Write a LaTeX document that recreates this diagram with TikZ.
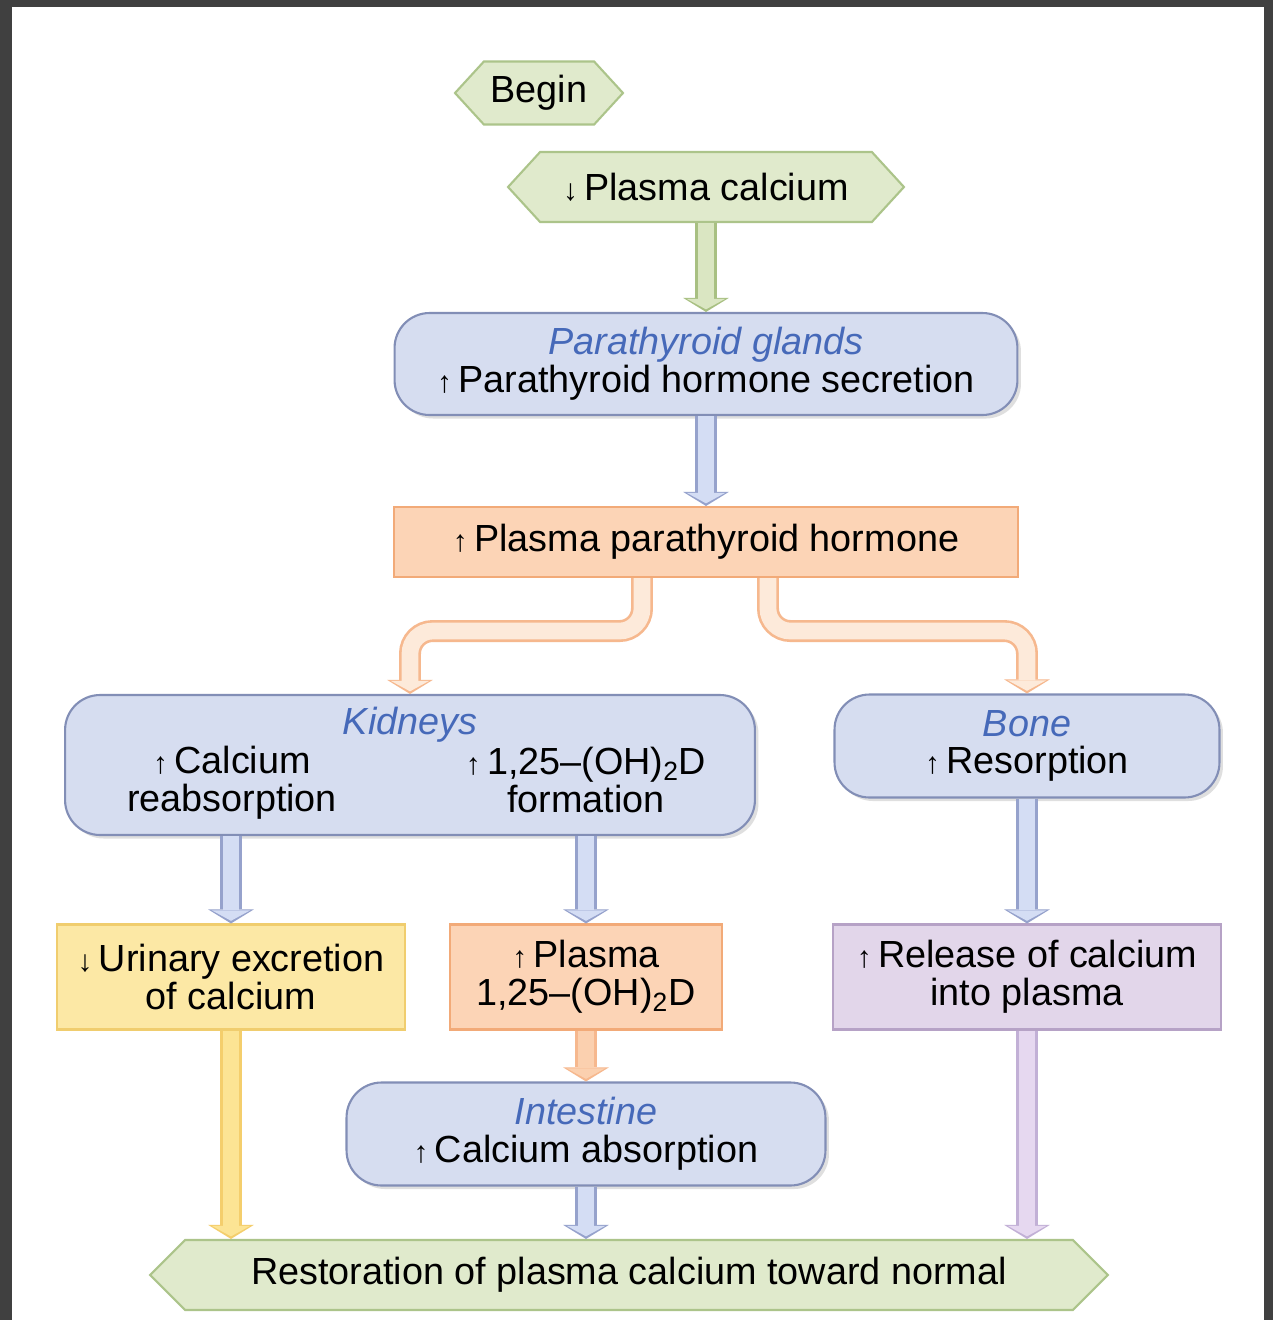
\documentclass[tikz,border=0pt]{standalone}
\usepackage{fontspec}
\setmainfont{Liberation Sans}
\usetikzlibrary{shapes.symbols,arrows.meta,shadows}

\definecolor{framegray}{RGB}{64,64,64}
\definecolor{greenfill}{RGB}{224,234,204}
\definecolor{greenline}{RGB}{172,196,138}
\definecolor{greenin}{RGB}{218,230,194}
\definecolor{greenout}{RGB}{168,192,130}
\definecolor{bluefill}{RGB}{214,221,240}
\definecolor{blueline}{RGB}{130,142,182}
\definecolor{bluein}{RGB}{212,221,244}
\definecolor{blueout}{RGB}{150,162,204}
\definecolor{headblue}{RGB}{70,105,185}
\definecolor{orangefill}{RGB}{252,212,182}
\definecolor{orangeline}{RGB}{242,170,120}
\definecolor{orangein}{RGB}{253,234,218}
\definecolor{orangeout}{RGB}{246,184,142}
\definecolor{orangedeep}{RGB}{251,208,175}
\definecolor{yellowfill}{RGB}{252,232,165}
\definecolor{yellowline}{RGB}{240,205,110}
\definecolor{yellowin}{RGB}{252,228,148}
\definecolor{yellowout}{RGB}{244,206,108}
\definecolor{lavfill}{RGB}{226,214,234}
\definecolor{lavline}{RGB}{182,162,198}
\definecolor{lavin}{RGB}{230,216,240}
\definecolor{lavout}{RGB}{194,176,214}

\newcommand\uparr{{\fontsize{17}{17}\selectfont ↑}\,}
\newcommand\downarr{{\fontsize{17}{17}\selectfont ↓}\,}

\begin{document}
\begin{tikzpicture}[x=0.02cm,y=-0.02cm,
    every node/.style={font=\fontsize{21.5}{21.5}\selectfont, align=center},
    hexbox/.style={signal, signal to=west and east, signal pointer angle=95,
        draw=greenline, fill=greenfill, line width=1.2pt, inner sep=0pt},
    roundbox/.style={rectangle, rounded corners=0.7cm, draw=blueline, fill=bluefill, line width=1.2pt,
        drop shadow={opacity=0.25, shadow xshift=2pt, shadow yshift=-2pt}},
    flatbox/.style 2 args={rectangle, draw=#2, fill=#1, line width=1.2pt},
    head/.style={text=headblue, font=\fontsize{21.5}{21.5}\selectfont\itshape},
    flow/.style 2 args={draw=#1, line width=9.5pt, -{Triangle[length=6pt,width=22pt,line width=0pt]}, shorten >=1.5pt,
        preaction={draw=#2, line width=12.5pt, -{Triangle[length=8pt,width=26pt,line width=0pt]}, shorten >=0pt}}]
	\useasboundingbox (0,0) rectangle (1273,1320);
	\fill[framegray] (0,0) rectangle (1273,1320);
	\fill[white] (12,7) rectangle (1264,1320);

	\node[hexbox, minimum width=3.36cm, minimum height=1.26cm] (begin) at (539,93) {Begin};
	\node[hexbox, minimum width=7.92cm, minimum height=1.4cm] (lowca) at (706,187) {\downarr Plasma calcium};
	\node[roundbox, minimum width=12.46cm, minimum height=2.04cm] (ptg) at (706,364)
		{\textcolor{headblue}{\itshape Parathyroid glands}\\\uparr Parathyroid hormone secretion};
	\node[flatbox={orangefill}{orangeline}, minimum width=12.5cm, minimum height=1.4cm] (pth) at (706,542)
		{\uparr Plasma parathyroid hormone};

	\node[roundbox, minimum width=13.8cm, minimum height=2.8cm] (kid) at (410,765) {};
	\node[head] (kidname) at (410,725) {Kidneys};
	\node (kidca) at (232,783) {\uparr Calcium\\reabsorption};
	\node (kidvd) at (586,780) {\uparr 1,25--(OH)\textsubscript{2}D\\formation};
	\node[roundbox, minimum width=7.7cm, minimum height=2.06cm] (bone) at (1027,746)
		{\textcolor{headblue}{\itshape Bone}\\\uparr Resorption};

	\node[flatbox={yellowfill}{yellowline}, minimum width=6.96cm, minimum height=2.1cm] (urin) at (231,977)
		{\downarr Urinary excretion\\of calcium};
	\node[flatbox={orangefill}{orangeline}, minimum width=5.44cm, minimum height=2.1cm] (pvd) at (586,977)
		{\uparr Plasma\\1,25--(OH)\textsubscript{2}D};
	\node[flatbox={lavfill}{lavline}, minimum width=7.76cm, minimum height=2.1cm] (rel) at (1027,977)
		{\uparr Release of calcium\\into plasma};
	\node[roundbox, minimum width=9.58cm, minimum height=2.06cm] (gut) at (586,1134)
		{\textcolor{headblue}{\itshape Intestine}\\\uparr Calcium absorption};
	\node[hexbox, signal pointer angle=90, minimum width=19.16cm, minimum height=1.4cm] (rest) at (629,1275)
		{Restoration of plasma calcium toward normal};

	\draw[flow={greenin}{greenout}] (lowca.south) -- (ptg.north);
	\draw[flow={bluein}{blueout}] (ptg.south) -- (pth.north);
	\draw[flow={orangein}{orangeout}, rounded corners=0.45cm] ([xshift=-1.28cm]pth.south) -- ++(0,53) -| (kid.north);
	\draw[flow={orangein}{orangeout}, rounded corners=0.45cm] ([xshift=1.24cm]pth.south) -- ++(0,53) -| (bone.north);
	\draw[flow={bluein}{blueout}] (kid.south -| urin.north) -- (urin.north);
	\draw[flow={bluein}{blueout}] (kid.south -| pvd.north) -- (pvd.north);
	\draw[flow={bluein}{blueout}] (bone.south) -- (rel.north);
	\draw[flow={orangedeep}{orangeout}] (pvd.south) -- (gut.north);
	\draw[flow={yellowin}{yellowout}] (urin.south) -- (urin.south |- rest.north);
	\draw[flow={bluein}{blueout}] (gut.south) -- (gut.south |- rest.north);
	\draw[flow={lavin}{lavout}] (rel.south) -- (rel.south |- rest.north);
\end{tikzpicture}
\end{document}
